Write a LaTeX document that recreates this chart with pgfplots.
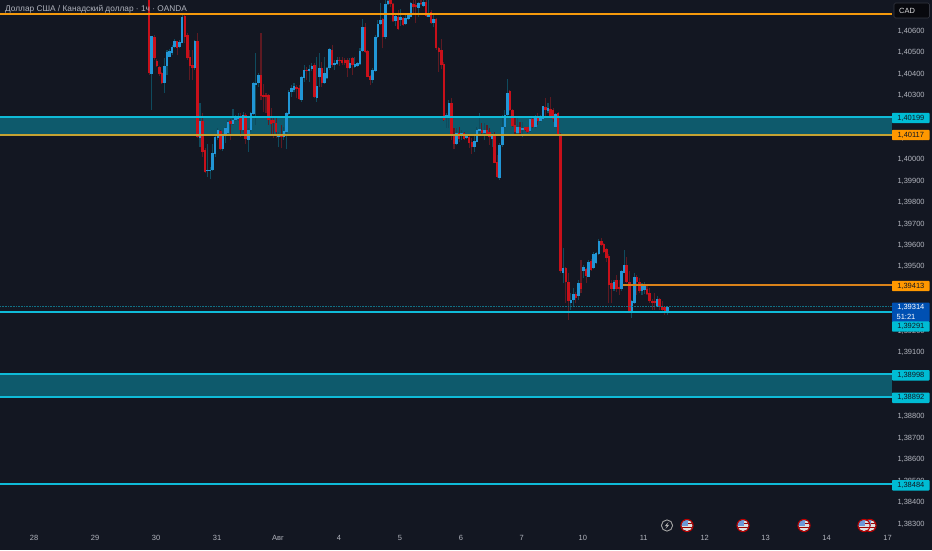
\documentclass[border=0pt]{standalone}
\usepackage{pgfplots}
\usepackage{pgfplotstable}
\usepackage{fontspec}
\setmainfont{Liberation Sans}
\pgfplotsset{compat=1.18}
\definecolor{bg}{HTML}{131722}
\definecolor{upb}{HTML}{2196D6}
\definecolor{dnb}{HTML}{C8101A}
\definecolor{upw}{HTML}{0F4B5E}
\definecolor{dnw}{HTML}{5E1A22}
\definecolor{zone}{HTML}{0E5A6C}
\definecolor{cyanl}{HTML}{0FBBD8}
\definecolor{orl}{HTML}{F59A0C}
\definecolor{orlb}{HTML}{D9821A}
\definecolor{zoneor}{HTML}{C4A232}
\definecolor{tagc}{HTML}{00BCD4}
\definecolor{tago}{HTML}{FF9800}
\definecolor{txt}{HTML}{B2B5BE}
\definecolor{tagt}{HTML}{131722}
\pgfplotstableread{
i o h l c
1 1.40400 1.40577 1.40232 1.40577
6 1.40359 1.40473 1.40313 1.40437
7 1.40437 1.40512 1.40395 1.40501
8 1.40481 1.40515 1.40477 1.40509
9 1.40496 1.40535 1.40488 1.40527
10 1.40524 1.40561 1.40519 1.40555
12 1.40527 1.40558 1.40519 1.40549
13 1.40546 1.40675 1.40543 1.40667
18 1.40426 1.40558 1.40418 1.40552
20 1.40099 1.40266 1.40061 1.40182
23 1.39947 1.40073 1.39921 1.39952
24 1.39947 1.39967 1.39908 1.39952
25 1.39952 1.40073 1.39949 1.40029
26 1.40026 1.40115 1.40014 1.40107
27 1.40099 1.40146 1.40092 1.40138
29 1.40050 1.40123 1.40042 1.40115
30 1.40112 1.40154 1.40076 1.40146
31 1.40123 1.40185 1.40115 1.40177
33 1.40166 1.40235 1.40162 1.40185
34 1.40185 1.40208 1.40182 1.40197
35 1.40188 1.40216 1.40182 1.40201
37 1.40138 1.40224 1.40131 1.40207
39 1.40092 1.40146 1.40037 1.40138
40 1.40138 1.40224 1.40131 1.40216
41 1.40213 1.40364 1.40208 1.40356
42 1.40348 1.40496 1.40162 1.40359
43 1.40356 1.40403 1.40341 1.40397
51 1.40104 1.40131 1.40057 1.40115
53 1.40104 1.40154 1.40092 1.40135
54 1.40131 1.40224 1.40048 1.40216
55 1.40213 1.40325 1.40208 1.40317
56 1.40317 1.40348 1.40294 1.40333
57 1.40325 1.40356 1.40317 1.40344
60 1.40278 1.40390 1.40270 1.40384
61 1.40380 1.40442 1.40364 1.40418
63 1.40414 1.40442 1.40364 1.40423
64 1.40421 1.40449 1.40415 1.40438
66 1.40289 1.40477 1.40270 1.40345
67 1.40384 1.40496 1.40341 1.40426
69 1.40356 1.40477 1.40353 1.40403
70 1.40380 1.40434 1.40375 1.40428
71 1.40426 1.40519 1.40418 1.40515
73 1.40442 1.40465 1.40418 1.40449
74 1.40446 1.40481 1.40442 1.40465
79 1.40426 1.40473 1.40421 1.40449
81 1.40434 1.40481 1.40429 1.40445
82 1.40437 1.40457 1.40434 1.40449
83 1.40446 1.40519 1.40442 1.40509
84 1.40509 1.40655 1.40504 1.40617
88 1.40372 1.40426 1.40356 1.40418
89 1.40415 1.40582 1.40411 1.40574
90 1.40571 1.40652 1.40566 1.40633
91 1.40633 1.40733 1.40628 1.40652
93 1.40571 1.40760 1.40561 1.40726
94 1.40726 1.40760 1.40722 1.40742
97 1.40649 1.40680 1.40624 1.40670
99 1.40652 1.40701 1.40624 1.40667
101 1.40633 1.40686 1.40628 1.40659
102 1.40655 1.40686 1.40652 1.40675
103 1.40667 1.40737 1.40664 1.40729
106 1.40708 1.40737 1.40667 1.40729
108 1.40717 1.40760 1.40714 1.40737
110 1.40667 1.40760 1.40664 1.40686
112 1.40639 1.40686 1.40620 1.40655
117 1.40193 1.40219 1.40146 1.40208
118 1.40193 1.40278 1.40146 1.40263
121 1.40073 1.40146 1.40069 1.40123
123 1.40115 1.40139 1.40092 1.40123
125 1.40100 1.40115 1.40095 1.40108
128 1.40061 1.40111 1.40037 1.40089
129 1.40084 1.40151 1.40080 1.40139
130 1.40132 1.40216 1.40126 1.40142
132 1.40123 1.40173 1.40092 1.40139
135 1.40095 1.40123 1.40061 1.40115
138 1.39913 1.40076 1.39905 1.40069
139 1.40066 1.40209 1.40061 1.40154
140 1.40151 1.40232 1.40146 1.40209
141 1.40206 1.40377 1.40201 1.40313
145 1.40126 1.40201 1.40123 1.40151
147 1.40139 1.40177 1.40104 1.40146
150 1.40135 1.40193 1.40131 1.40188
152 1.40151 1.40209 1.40146 1.40201
154 1.40182 1.40209 1.40177 1.40201
155 1.40188 1.40251 1.40185 1.40248
157 1.40229 1.40263 1.40216 1.40240
160 1.40154 1.40216 1.40151 1.40213
163 1.39473 1.39586 1.39423 1.39493
166 1.39333 1.39376 1.39299 1.39345
167 1.39345 1.39400 1.39317 1.39373
169 1.39364 1.39439 1.39345 1.39423
171 1.39482 1.39509 1.39446 1.39498
173 1.39454 1.39532 1.39451 1.39524
175 1.39493 1.39571 1.39488 1.39560
176 1.39516 1.39571 1.39513 1.39566
177 1.39560 1.39628 1.39555 1.39622
183 1.39395 1.39439 1.39389 1.39431
186 1.39395 1.39485 1.39389 1.39478
187 1.39473 1.39576 1.39470 1.39509
190 1.39286 1.39345 1.39260 1.39338
191 1.39333 1.39470 1.39327 1.39454
194 1.39389 1.39423 1.39369 1.39408
195 1.39392 1.39431 1.39373 1.39408
200 1.39314 1.39364 1.39311 1.39348
204 1.39286 1.39317 1.39275 1.39314
}\upcandles
\pgfplotstableread{
i o h l c
0 1.40780 1.40790 1.40395 1.40403
2 1.40574 1.40582 1.40465 1.40473
3 1.40462 1.40468 1.40434 1.40437
4 1.40434 1.40437 1.40390 1.40400
5 1.40403 1.40411 1.40353 1.40359
11 1.40552 1.40555 1.40488 1.40521
14 1.40670 1.40680 1.40543 1.40574
15 1.40582 1.40589 1.40465 1.40473
16 1.40481 1.40512 1.40372 1.40437
17 1.40442 1.40512 1.40372 1.40426
19 1.40552 1.40589 1.40099 1.40107
21 1.40182 1.40216 1.40014 1.40037
22 1.40045 1.40053 1.39939 1.39944
28 1.40134 1.40138 1.40045 1.40048
32 1.40182 1.40188 1.40092 1.40166
36 1.40201 1.40216 1.40107 1.40138
38 1.40208 1.40219 1.40073 1.40095
44 1.40395 1.40589 1.40278 1.40297
45 1.40302 1.40353 1.40224 1.40294
46 1.40302 1.40309 1.40216 1.40294
47 1.40302 1.40306 1.40162 1.40185
48 1.40185 1.40239 1.40115 1.40166
49 1.40185 1.40201 1.40099 1.40169
50 1.40173 1.40201 1.40099 1.40131
52 1.40115 1.40162 1.40053 1.40104
58 1.40341 1.40348 1.40286 1.40328
59 1.40333 1.40348 1.40278 1.40281
62 1.40418 1.40434 1.40372 1.40414
65 1.40442 1.40449 1.40286 1.40291
68 1.40426 1.40457 1.40341 1.40356
72 1.40512 1.40535 1.40434 1.40442
75 1.40465 1.40481 1.40437 1.40462
76 1.40465 1.40477 1.40442 1.40449
77 1.40465 1.40473 1.40442 1.40449
78 1.40465 1.40473 1.40387 1.40426
80 1.40473 1.40477 1.40395 1.40442
85 1.40617 1.40639 1.40499 1.40504
86 1.40507 1.40512 1.40384 1.40387
87 1.40390 1.40395 1.40348 1.40372
92 1.40655 1.40659 1.40519 1.40571
95 1.40745 1.40760 1.40714 1.40726
96 1.40726 1.40733 1.40644 1.40649
98 1.40667 1.40698 1.40605 1.40608
100 1.40659 1.40667 1.40624 1.40628
104 1.40726 1.40760 1.40683 1.40711
105 1.40722 1.40760 1.40639 1.40711
107 1.40733 1.40745 1.40722 1.40726
109 1.40737 1.40760 1.40667 1.40670
111 1.40691 1.40698 1.40633 1.40636
113 1.40655 1.40659 1.40512 1.40519
114 1.40519 1.40524 1.40411 1.40504
115 1.40512 1.40561 1.40421 1.40442
116 1.40446 1.40457 1.40182 1.40185
119 1.40263 1.40286 1.40092 1.40108
120 1.40115 1.40146 1.40048 1.40073
122 1.40123 1.40154 1.40084 1.40095
124 1.40126 1.40131 1.40092 1.40095
126 1.40104 1.40111 1.40053 1.40076
127 1.40080 1.40100 1.40027 1.40061
131 1.40139 1.40170 1.40108 1.40123
133 1.40139 1.40162 1.40108 1.40115
134 1.40131 1.40146 1.40069 1.40104
136 1.40111 1.40131 1.39983 1.39986
137 1.39991 1.40022 1.39913 1.39918
142 1.40318 1.40325 1.40229 1.40232
143 1.40232 1.40235 1.40154 1.40157
144 1.40162 1.40193 1.40115 1.40131
146 1.40151 1.40177 1.40108 1.40126
148 1.40150 1.40154 1.40134 1.40139
149 1.40150 1.40154 1.40126 1.40131
151 1.40188 1.40193 1.40146 1.40151
153 1.40201 1.40216 1.40162 1.40182
156 1.40244 1.40286 1.40204 1.40232
158 1.40235 1.40291 1.40201 1.40204
159 1.40232 1.40240 1.40177 1.40188
161 1.40216 1.40220 1.40108 1.40115
162 1.40115 1.40123 1.39473 1.39478
164 1.39496 1.39501 1.39330 1.39431
165 1.39431 1.39473 1.39252 1.39338
168 1.39373 1.39380 1.39330 1.39353
170 1.39423 1.39532 1.39376 1.39395
172 1.39488 1.39493 1.39423 1.39457
174 1.39529 1.39535 1.39482 1.39485
178 1.39622 1.39633 1.39597 1.39602
179 1.39607 1.39613 1.39566 1.39571
180 1.39582 1.39586 1.39524 1.39540
181 1.39548 1.39560 1.39330 1.39415
182 1.39423 1.39439 1.39330 1.39395
184 1.39439 1.39462 1.39384 1.39395
185 1.39404 1.39439 1.39369 1.39395
188 1.39509 1.39544 1.39423 1.39431
189 1.39431 1.39478 1.39283 1.39283
192 1.39454 1.39462 1.39369 1.39431
193 1.39431 1.39446 1.39376 1.39389
196 1.39395 1.39408 1.39369 1.39373
197 1.39376 1.39400 1.39333 1.39338
198 1.39342 1.39348 1.39299 1.39333
199 1.39338 1.39376 1.39299 1.39333
201 1.39348 1.39353 1.39299 1.39311
202 1.39314 1.39338 1.39291 1.39299
203 1.39311 1.39317 1.39275 1.39283
}\dncandles
\newcommand{\pricetag}[4]{\fill[#1,rounded corners=0.8pt] (892,{550-#3-5.2}) rectangle (929.5,{550-#3+5.2});
  \node[font=\fontsize{7.5}{9}\selectfont,text=#4,inner sep=0pt] at (910.8,{550-#3}) {#2};}
\newcommand{\flagicon}[1]{%
  \begin{scope}
  \fill[white!75!gray] (#1,24.5) circle (5.6pt);
  \clip (#1,24.5) circle (5.6pt);
  \fill[cyan!50!blue!60!white] ({#1-6},24.5) rectangle ({#1+1},31);
  \fill[red!60!black] ({#1+1},26) rectangle ({#1+6},27.2);
  \fill[red!60!black] ({#1-6},22) rectangle ({#1+6},23);
  \end{scope}
  \draw[color=red!75!black,line width=1pt] (#1,24.5) circle (6.1pt);}
\begin{document}
\begin{tikzpicture}[x=1pt,y=1pt]
\useasboundingbox (0,0) rectangle (932,550);
\fill[bg] (0,0) rectangle (932,550);
\begin{axis}[
  at={(0pt,15pt)},anchor=south west,
  scale only axis,width=892pt,height=535pt,
  xmin=-58.74,xmax=292.44,ymin=1.38248,ymax=1.40745,
  axis line style={draw=none},
  major tick length=0pt,minor tick length=0pt,
  xtick pos=bottom,ytick pos=right,
  ticklabel style={font=\fontsize{7.5}{9}\selectfont,text=txt},
  xtick={-45.3,-21.3,2.7,26.7,50.7,74.7,98.7,122.7,146.7,170.7,194.7,218.7,242.7,266.7,290.7},
  xticklabels={28,29,30,31,Авг,4,5,6,7,10,11,12,13,14,17},
  xticklabel style={yshift=3pt},
  ytick={1.383,1.384,1.385,1.386,1.387,1.388,1.391,1.392,1.395,1.396,1.397,1.398,1.399,1.400,1.401,1.403,1.404,1.405,1.406},
  yticklabels={{1,38300},{1,38400},{1,38500},{1,38600},{1,38700},{1,38800},{1,39100},{1,39200},{1,39500},{1,39600},{1,39700},{1,39800},{1,39900},{1,40000},{1,40100},{1,40300},{1,40400},{1,40500},{1,40600}},
  yticklabel pos=right,
  yticklabel style={anchor=west,xshift=2pt},
]
% zones
\addplot[fill=zone,draw=none,forget plot] coordinates {(-58.74,1.40199)(292.44,1.40199)(292.44,1.40117)(-58.74,1.40117)};
\addplot[fill=zone,draw=none,forget plot] coordinates {(-58.74,1.38998)(292.44,1.38998)(292.44,1.38892)(-58.74,1.38892)};
% wicks
\addplot[draw=none,no markers,forget plot,error bars/.cd,y dir=plus,y explicit,error mark=none,error bar style={line width=1.1pt,color=upw}]
  table[x=i,y=l,y error plus expr=\thisrow{h}-\thisrow{l}] {\upcandles};
\addplot[draw=none,no markers,forget plot,error bars/.cd,y dir=plus,y explicit,error mark=none,error bar style={line width=1.1pt,color=dnw}]
  table[x=i,y=l,y error plus expr=\thisrow{h}-\thisrow{l}] {\dncandles};
% bodies
\addplot[draw=none,no markers,forget plot,error bars/.cd,y dir=plus,y explicit,error mark=none,error bar style={line width=2.5pt,color=upb}]
  table[x=i,y=o,y error plus expr=\thisrow{c}-\thisrow{o}] {\upcandles};
\addplot[draw=none,no markers,forget plot,error bars/.cd,y dir=plus,y explicit,error mark=none,error bar style={line width=2.5pt,color=dnb}]
  table[x=i,y=c,y error plus expr=\thisrow{o}-\thisrow{c}] {\dncandles};
% levels
\addplot[draw=orl,line width=1.6pt,forget plot] coordinates {(-58.74,1.40680)(292.44,1.40680)};
\addplot[draw=cyanl,line width=2pt,forget plot] coordinates {(-58.74,1.40199)(292.44,1.40199)};
\addplot[draw=zoneor,line width=2pt,forget plot] coordinates {(-58.74,1.40117)(292.44,1.40117)};
\addplot[draw=orlb,line width=2pt,forget plot] coordinates {(186.5,1.39413)(292.44,1.39413)};
\addplot[draw=cyanl!55!bg,line width=0.6pt,densely dotted,forget plot] coordinates {(-58.74,1.39314)(292.44,1.39314)};
\addplot[draw=cyanl,line width=2pt,forget plot] coordinates {(-58.74,1.39291)(292.44,1.39291)};
\addplot[draw=cyanl,line width=1.8pt,forget plot] coordinates {(-58.74,1.38998)(292.44,1.38998)};
\addplot[draw=cyanl,line width=1.8pt,forget plot] coordinates {(-58.74,1.38892)(292.44,1.38892)};
\addplot[draw=cyanl,line width=2pt,forget plot] coordinates {(-58.74,1.38484)(292.44,1.38484)};
\end{axis}
% title
\node[anchor=west,inner sep=0pt,text=txt,font=\fontsize{8.3}{10}\selectfont] at (5,541) {Доллар США / Канадский доллар · 1ч · OANDA};
% currency box
\draw[fill=black!60!bg,draw=white!14!bg,rounded corners=1.5pt,line width=0.6pt] (894,532) rectangle (929.5,547);
\node[font=\fontsize{7.5}{9}\selectfont,text=white!85!bg,inner sep=0pt] at (907,539.5) {CAD};
% price tags
\pricetag{tagc}{1,40199}{118}{tagt}
\pricetag{tago}{1,40117}{135}{tagt}
\pricetag{tago}{1,39413}{286}{tagt}
\fill[blue!55!cyan!70!black,rounded corners=0.8pt] (892,228) rectangle (929.5,247.5);
\node[font=\fontsize{7.5}{9}\selectfont,text=white,inner sep=0pt] at (910.8,242.6) {1,39314};
\node[font=\fontsize{7.5}{9}\selectfont,text=white,inner sep=0pt] at (906,233) {51:21};
\pricetag{tagc}{1,39291}{326.5}{tagt}
\pricetag{tagc}{1,38998}{375.3}{tagt}
\pricetag{tagc}{1,38892}{397.8}{tagt}
\pricetag{tagc}{1,38484}{485.3}{tagt}
% event icons
\draw[color=gray!70!white,line width=0.9pt] (667,24.5) circle (5.6pt);
\fill[gray!60!white] (668.5,28) -- (664.7,23.8) -- (667,23.8) -- (665.5,21) -- (669.3,25.2) -- (667,25.2) -- cycle;
\flagicon{870}
\flagicon{687}
\flagicon{743}
\flagicon{804}
\flagicon{864}
\end{tikzpicture}
\end{document}
